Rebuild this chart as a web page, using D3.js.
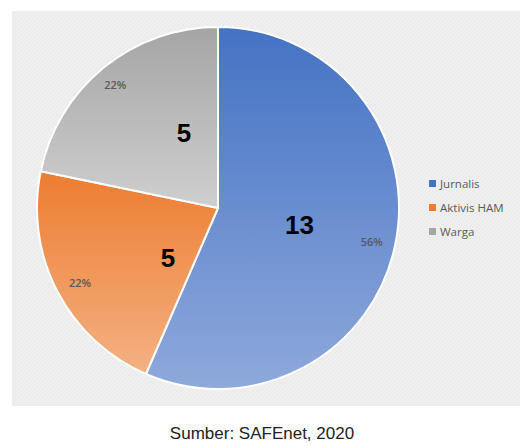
<!DOCTYPE html>
<html><head><meta charset="utf-8">
<script src="https://cdn.jsdelivr.net/npm/d3@7"></script>
<style>body{margin:0;background:#fff}svg{display:block}</style>
</head><body>
<svg id="c" width="520" height="446"></svg>
<script>
const categories = ["Jurnalis", "Aktivis HAM", "Warga"];
const values = [13, 5, 5];
const percentLabels = ["56%", "22%", "22%"];
const colorsTop = ["#4472C4", "#ED7D31", "#A5A5A5"];
const colorsBottom = ["#8EA9DB", "#F4B183", "#CFCFCF"];
const caption = "Sumber: SAFEnet, 2020";

const svg = d3.select("#c");
const defs = svg.append("defs");
const pat = defs.append("pattern").attr("id","tex").attr("width",4).attr("height",4).attr("patternUnits","userSpaceOnUse");
pat.append("rect").attr("width",4).attr("height",4).attr("fill","#efefef");
pat.append("path").attr("d","M0,4 L4,0").attr("stroke","#e9e9e9").attr("stroke-width",1);

svg.append("rect").attr("x",12).attr("y",11).attr("width",508).attr("height",395).attr("fill","url(#tex)");

categories.forEach((c,i)=>{
  const g = defs.append("linearGradient").attr("id","g"+i).attr("x1",0).attr("y1",0).attr("x2",0).attr("y2",1);
  g.append("stop").attr("offset","0%").attr("stop-color",colorsTop[i]);
  g.append("stop").attr("offset","100%").attr("stop-color",colorsBottom[i]);
});

const cx = 218, cy = 208, R = 181;
const pie = d3.pie().sort(null).value(d=>d)(values);
const arc = d3.arc().innerRadius(0).outerRadius(R);
const g = svg.append("g").attr("transform",`translate(${cx},${cy})`);
g.selectAll("path.s").data(pie).join("path").attr("class","s")
  .attr("d",arc).attr("fill",(d,i)=>`url(#g${i})`)
  .attr("stroke","#fff").attr("stroke-width",2).attr("stroke-linejoin","round");

function pos(d, rFrac, dAng){
  const a = (d.startAngle+d.endAngle)/2 + dAng;
  return [Math.sin(a)*R*rFrac, -Math.cos(a)*R*rFrac];
}
const valR = [0.46, 0.39, 0.455], valDA = [0, -0.307, 0.257];
const pctR = [0.87, 0.867, 0.886], pctDA = [0.012, -0.019, -0.013];

g.selectAll("text.v").data(pie).join("text").attr("class","v")
  .attr("x",(d,i)=>pos(d,valR[i],valDA[i])[0])
  .attr("y",(d,i)=>pos(d,valR[i],valDA[i])[1])
  .attr("text-anchor","middle").attr("dominant-baseline","central")
  .attr("font-family","Liberation Sans, Arial, sans-serif").attr("font-weight","bold")
  .attr("font-size",26).attr("fill","#000")
  .text((d,i)=>values[i]);

g.selectAll("text.p").data(pie).join("text").attr("class","p")
  .attr("x",(d,i)=>pos(d,pctR[i],pctDA[i])[0])
  .attr("y",(d,i)=>pos(d,pctR[i],pctDA[i])[1])
  .attr("text-anchor","middle").attr("dominant-baseline","central")
  .attr("font-family","Open Sans, Lato, sans-serif").attr("font-weight",600)
  .attr("font-size",11).attr("fill","#595959")
  .text((d,i)=>percentLabels[i]);

const lg = svg.append("g").attr("transform","translate(429,183)");
const items = lg.selectAll("g").data(categories).join("g").attr("transform",(d,i)=>`translate(0,${i*24})`);
items.append("rect").attr("x",0).attr("y",-3).attr("width",7).attr("height",7).attr("fill",(d,i)=>colorsTop[i]);
items.append("text").attr("x",11).attr("y",0).attr("dominant-baseline","central")
  .attr("font-family","Open Sans, Lato, sans-serif").attr("font-size",11.5).attr("fill","#595959").text(d=>d);

svg.append("text").attr("x",262).attr("y",433).attr("text-anchor","middle").attr("dominant-baseline","central")
  .attr("font-family","Liberation Sans, Arial, sans-serif").attr("font-size",17).attr("fill","#222").text(caption);
</script>
</body></html>
